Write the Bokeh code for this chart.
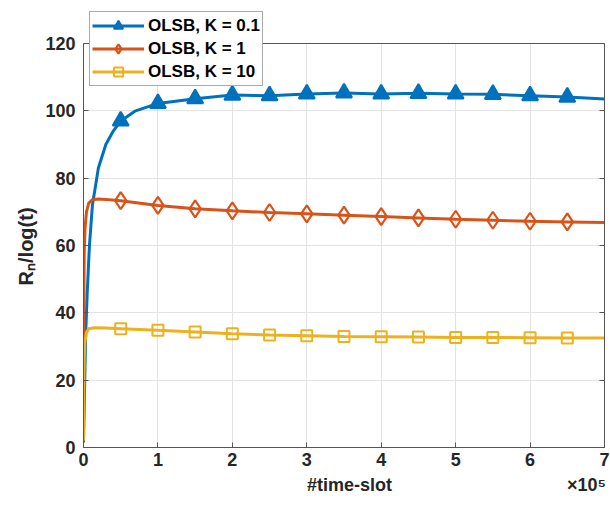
import numpy as np
from bokeh.plotting import figure
from bokeh.models import Range1d, Legend, LegendItem, FixedTicker, LinearAxis, Span
from bokeh.embed import file_html
from bokeh.resources import INLINE

# data (x in units of 1e5 time-slots)
x_k01 = [0, 0.01, 0.02, 0.03, 0.05, 0.08, 0.12, 0.2, 0.3, 0.4, 0.5, 0.7, 1.0, 1.5, 2.0, 2.5, 3.0, 3.5, 4.0, 4.5, 5.0, 5.5, 6.0, 6.5, 7.0]
y_k01 = [1.5, 12, 24, 34, 46, 60, 72, 83, 90, 94, 97, 100, 102.2, 103.6, 104.7, 104.5, 105.0, 105.3, 105.0, 105.2, 105.0, 104.9, 104.5, 104.1, 103.5]

x_k1 = [0, 0.003, 0.006, 0.01, 0.02, 0.04, 0.07, 0.12, 0.2, 0.3, 0.5, 1.0, 1.5, 2.0, 2.5, 3.0, 3.5, 4.0, 4.5, 5.0, 5.5, 6.0, 6.5, 7.0]
y_k1 = [2, 30, 48, 58, 65, 70, 72.6, 73.6, 73.8, 73.7, 73.3, 71.9, 70.9, 70.3, 69.8, 69.4, 69.0, 68.6, 68.2, 67.8, 67.5, 67.2, 67.0, 66.8]

x_k10 = [0, 0.003, 0.006, 0.01, 0.02, 0.04, 0.07, 0.15, 0.3, 0.5, 1.0, 1.5, 2.0, 2.5, 3.0, 3.5, 4.0, 4.5, 5.0, 5.5, 6.0, 6.5, 7.0]
y_k10 = [2, 14, 22, 27, 31.5, 34.2, 35.3, 35.6, 35.5, 35.3, 34.8, 34.3, 33.8, 33.4, 33.2, 33.0, 32.9, 32.8, 32.7, 32.7, 32.6, 32.5, 32.5]

marker_x = [0.5, 1.0, 1.5, 2.0, 2.5, 3.0, 3.5, 4.0, 4.5, 5.0, 5.5, 6.0, 6.5]
marker_k01 = [97, 102.2, 103.6, 104.7, 104.5, 105.0, 105.3, 105.0, 105.2, 105.0, 104.9, 104.5, 104.1]
marker_k1 = [73.3, 71.9, 70.9, 70.3, 69.8, 69.4, 69.0, 68.6, 68.2, 67.8, 67.5, 67.2, 67.0]
marker_k10 = [35.3, 34.8, 34.3, 33.8, 33.4, 33.2, 33.0, 32.9, 32.8, 32.7, 32.7, 32.6, 32.5]

labels = ["OLSB, K = 0.1", "OLSB, K = 1", "OLSB, K = 10"]
x_ticks = [0, 1, 2, 3, 4, 5, 6, 7]
y_ticks = [0, 20, 40, 60, 80, 100, 120]
x_label = "#time-slot"
x_exponent = "\u00d710\u2075"
y_label = "R\u2099/log(t)"

c_blue = "#0072BD"
c_red = "#D95319"
c_yel = "#EDB120"
FONT = "Liberation Sans"
TXT = "#262626"
AX = "#555555"
NB = "\u00a0"

Y_MAX = 120
PX_PER_Y = 404 / 120.0
TOP_PAD = 37  # frame extends above the 120 line to hold the legend
y_top = Y_MAX + TOP_PAD / PX_PER_Y

p = figure(width=610, height=506, frame_width=521, frame_height=404 + TOP_PAD,
           min_border_left=83, min_border_right=6, min_border_top=43 - TOP_PAD,
           min_border_bottom=59,
           x_range=Range1d(0, 7), y_range=Range1d(0, y_top),
           output_backend="svg", toolbar_location=None)
p.background_fill_color = "white"
p.border_fill_color = "white"
p.outline_line_color = None

# right axis acting as box edge with inward ticks (no labels drawn)
raxis = LinearAxis(ticker=FixedTicker(ticks=y_ticks), bounds=(0, Y_MAX),
                   axis_label=None,
                   axis_label_text_font_size="0px", axis_label_text_color=None,
                   major_label_text_font_size="0px", major_label_text_color=None,
                   major_label_standoff=0, axis_label_standoff=0)
p.add_layout(raxis, "right")

for ax in (p.xaxis[0], p.yaxis[0], raxis):
    ax.axis_line_color = AX
    ax.axis_line_width = 1
    ax.major_tick_in = 5
    ax.major_tick_out = 0
    ax.minor_tick_in = 0
    ax.minor_tick_out = 0
    ax.major_tick_line_color = AX
for ax in (p.xaxis[0], p.yaxis[0]):
    ax.major_label_text_font = FONT
    ax.major_label_text_font_style = "bold"
    ax.major_label_text_font_size = "18px"
    ax.major_label_text_color = TXT

p.xaxis[0].ticker = FixedTicker(ticks=x_ticks)
p.yaxis[0].ticker = FixedTicker(ticks=y_ticks)
p.yaxis[0].bounds = (0, Y_MAX)
p.xaxis.major_label_standoff = 5
p.yaxis.major_label_standoff = 8

p.xaxis.axis_label = NB * 45 + x_label + NB * 35 + x_exponent
p.xaxis.axis_label_text_font = FONT
p.xaxis.axis_label_text_font_style = "bold"
p.xaxis.axis_label_text_font_size = "18px"
p.xaxis.axis_label_text_color = TXT
p.xaxis.axis_label_standoff = 6

p.yaxis[0].axis_label = y_label + NB * 7
p.yaxis[0].axis_label_text_font = FONT
p.yaxis[0].axis_label_text_font_style = "bold"
p.yaxis[0].axis_label_text_font_size = "20px"
p.yaxis[0].axis_label_text_color = TXT
p.yaxis[0].axis_label_standoff = 5

p.grid.grid_line_color = "#e3e3e3"
p.grid.grid_line_width = 1
p.xgrid.cross_bounds = (0, Y_MAX)

# top edge of the box
p.add_layout(Span(location=Y_MAX, dimension="width", line_color=AX, line_width=1))

# lines
l1 = p.line(x_k01, y_k01, line_color=c_blue, line_width=3)
l2 = p.line(x_k1, y_k1, line_color=c_red, line_width=3)
l3 = p.line(x_k10, y_k10, line_color=c_yel, line_width=3)

m1 = p.scatter(marker_x, marker_k01, marker="triangle", size=16, line_color=c_blue,
               fill_color=c_blue, line_width=2)
m2 = p.scatter(marker_x, marker_k1, marker="diamond", size=17, line_color=c_red,
               fill_alpha=0, line_width=2.2)
m3 = p.scatter(marker_x, marker_k10, marker="square", size=11, line_color=c_yel,
               fill_alpha=0, line_width=2)

legend = Legend(items=[LegendItem(label=labels[0], renderers=[l1, m1]),
                       LegendItem(label=labels[1], renderers=[l2, m2]),
                       LegendItem(label=labels[2], renderers=[l3, m3])],
                location=(6, 361))
legend.label_text_font = FONT
legend.label_text_font_style = "bold"
legend.label_text_font_size = "17px"
legend.label_text_color = "black"
legend.glyph_width = 52
legend.glyph_height = 23
legend.label_height = 23
legend.spacing = 0
legend.padding = 2
legend.margin = 0
legend.label_standoff = 4
legend.border_line_color = AX
legend.border_line_width = 1
legend.background_fill_alpha = 1
p.add_layout(legend, "center")

open("out.html", "w").write(file_html(p, INLINE))
